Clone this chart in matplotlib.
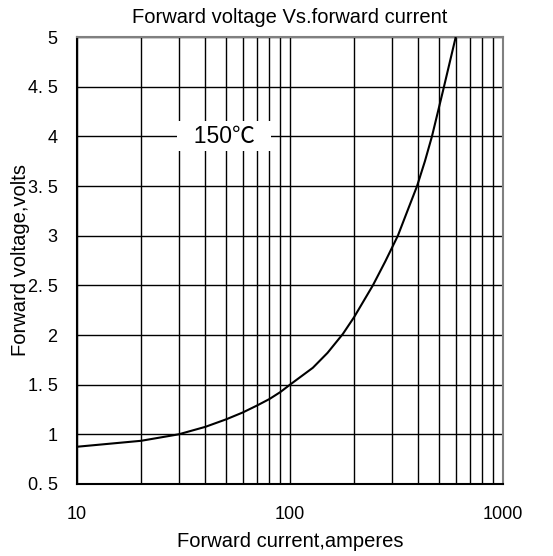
import matplotlib
matplotlib.use("Agg")
import matplotlib.pyplot as plt
from matplotlib.ticker import FixedLocator, NullFormatter, FixedFormatter

current = [10, 20, 30, 40, 50, 60, 70, 80, 90, 100, 128, 150, 177, 200, 245, 280, 321, 356, 395, 430, 464, 523, 600]
voltage = [0.875, 0.935, 1.0, 1.075, 1.15, 1.22, 1.29, 1.355, 1.425, 1.5, 1.67, 1.82, 2.01, 2.18, 2.5, 2.74, 3.0, 3.25, 3.5, 3.75, 4.0, 4.46, 5.0]

x_major = [10, 100, 1000]
x_major_labels = ["10", "100", "1000"]
x_minor = [20, 30, 40, 50, 60, 70, 80, 90, 200, 300, 400, 500, 600, 700, 800, 900]
y_ticks = [0.5, 1, 1.5, 2, 2.5, 3, 3.5, 4, 4.5, 5]
y_labels = ["0. 5", "1", "1. 5", "2", "2. 5", "3", "3. 5", "4", "4. 5", "5"]

plt.rcParams['font.family'] = ['Liberation Sans', 'DejaVu Sans']

fig = plt.figure(figsize=(5.53, 5.56), dpi=100)
ax = fig.add_axes([77/553, 1-484/556, (503-77)/553, (484-37)/556])

ax.set_xscale('log')
ax.set_xlim(10, 1000)
ax.set_ylim(0.5, 5)

ax.xaxis.set_major_locator(FixedLocator(x_major))
ax.xaxis.set_major_formatter(FixedFormatter(x_major_labels))
ax.xaxis.set_minor_locator(FixedLocator(x_minor))
ax.xaxis.set_minor_formatter(NullFormatter())
ax.yaxis.set_major_locator(FixedLocator(y_ticks))
ax.yaxis.set_major_formatter(FixedFormatter(y_labels))

ax.grid(True, which='both', axis='x', color='black', linewidth=1.0)
ax.grid(True, which='major', axis='y', color='black', linewidth=1.0)
ax.set_axisbelow(True)
ax.tick_params(which='both', length=0, labelsize=13)
ax.tick_params(axis='x', pad=16)
ax.tick_params(axis='y', pad=14)

for s in ['left', 'bottom']:
    ax.spines[s].set_linewidth(1.5)
    ax.spines[s].set_color('black')
for s in ['top', 'right']:
    ax.spines[s].set_linewidth(1.5)
    ax.spines[s].set_color('#808080')

ax.plot(current, voltage, color='black', linewidth=1.5, zorder=3)

ax.text(49, 4.0, "  150℃  ", fontsize=16.5, ha='center', va='center',
        family=['Liberation Sans', 'Noto Sans CJK SC'], zorder=4,
        bbox=dict(facecolor='white', edgecolor='none', boxstyle='square,pad=0.15'))

ax.set_title("Forward voltage Vs.forward current", fontsize=14.5, pad=10)
ax.set_xlabel("Forward current,amperes", fontsize=14.5, labelpad=6)
ax.set_ylabel("Forward voltage,volts", fontsize=14.5, labelpad=-2)

fig.savefig("out.png", dpi=100)
